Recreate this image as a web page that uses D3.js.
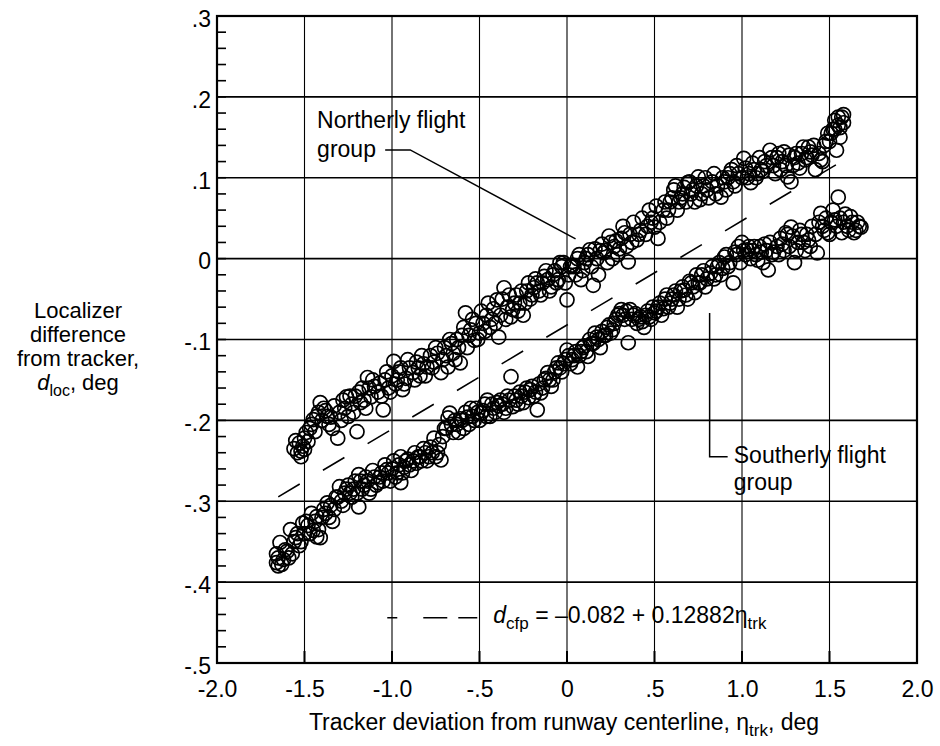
<!DOCTYPE html>
<html>
<head>
<meta charset="utf-8">
<script src="https://cdn.jsdelivr.net/npm/d3@7"></script>
<style>
  body { margin: 0; background: #fff; }
  svg text { font-family: "Liberation Sans", Arial, Helvetica, sans-serif; fill: #000; }
</style>
</head>
<body>
<div id="chart"></div>
<script>
// Axis ticks and labels
const xTicks = [-2, -1.5, -1, -0.5, 0, 0.5, 1, 1.5, 2];
const xTickLabels = ["-2.0", "-1.5", "-1.0", "-.5", "0", ".5", "1.0", "1.5", "2.0"];
const yTicks = [0.3, 0.2, 0.1, 0, -0.1, -0.2, -0.3, -0.4, -0.5];
const yTickLabels = [".3", ".2", ".1", "0", "-.1", "-.2", "-.3", "-.4", "-.5"];

// Northerly flight group: tracker deviation (deg) and localizer difference (deg)
const northEta = [-1.56,-1.54,-1.53,-1.52,-1.51,-1.50,-1.50,-1.48,-1.47,-1.45,-1.44,-1.42,-1.41,-1.40,-1.38,-1.36,-1.35,-1.33,-1.31,-1.30,
  -1.28,-1.26,-1.25,-1.23,-1.21,-1.20,-1.18,-1.17,-1.15,-1.14,-1.12,-1.10,-1.08,-1.07,-1.05,-1.04,-1.02,-1.00,-0.99,-0.98,
  -0.96,-0.94,-0.92,-0.90,-0.88,-0.86,-0.84,-0.82,-0.80,-0.78,-0.76,-0.74,-0.72,-0.70,-0.68,-0.66,-0.65,-0.63,-0.61,-0.60,
  -0.58,-0.57,-0.55,-0.53,-0.52,-0.50,-0.48,-0.46,-0.44,-0.42,-0.40,-0.39,-0.38,-0.36,-0.34,-0.32,-0.31,-0.29,-0.27,-0.25,
  -0.23,-0.21,-0.19,-0.17,-0.15,-0.13,-0.11,-0.09,-0.07,-0.05,-0.03,-0.02,0.00,0.01,0.03,0.04,0.06,0.08,0.10,0.12,
  0.13,0.15,0.17,0.19,0.21,0.23,0.25,0.27,0.29,0.31,0.33,0.35,0.37,0.40,0.42,0.45,0.48,0.50,0.52,0.55,
  0.57,0.59,0.61,0.63,0.65,0.67,0.69,0.71,0.73,0.75,0.76,0.78,0.80,0.83,0.85,0.88,0.90,0.92,0.94,0.96,
  0.98,1.01,1.03,1.05,1.07,1.09,1.11,1.13,1.16,1.18,1.20,1.22,1.24,1.26,1.28,1.30,1.32,1.34,1.36,1.38,
  1.40,1.42,1.45,1.47,1.49,1.50,1.52,1.53,1.54,1.55,1.56,1.57,1.58,
  -1.55,-1.52,-1.49,-1.46,-1.43,-1.39,-1.37,-1.34,-1.29,-1.27,
  -1.24,-1.22,-1.19,-1.16,-1.13,-1.11,-1.06,-1.03,-1.01,-0.97,
  -0.95,-0.93,-0.91,-0.87,-0.85,-0.83,-0.81,-0.77,-0.75,-0.71,
  -0.69,-0.67,-0.64,-0.62,-0.59,-0.56,-0.54,-0.51,-0.49,-0.47,
  -0.45,-0.43,-0.41,-0.37,-0.35,-0.33,-0.30,-0.28,-0.26,-0.24,
  -0.22,-0.20,-0.18,-0.16,-0.14,-0.12,-0.10,-0.08,-0.06,-0.04,
  -0.01,0.02,0.05,0.07,0.09,0.11,0.14,0.16,0.18,0.20,
  0.22,0.24,0.26,0.28,0.30,0.32,0.34,0.36,0.38,0.41,
  0.43,0.46,0.47,0.49,0.51,0.53,0.56,0.58,0.60,0.62,
  0.64,0.66,0.68,0.70,0.72,0.74,0.77,0.79,0.81,0.84,
  0.86,0.89,0.91,0.93,0.95,0.97,1.00,1.02,1.04,1.06,
  1.08,1.10,1.12,1.14,1.17,1.19,1.21,1.23,1.25,1.27,
  1.29,1.31,1.33,1.35,1.37,1.39,1.41,1.44,1.46,1.48,
  1.51,1.53,1.55,1.56,1.58];
const northD = [-0.235,-0.240,-0.228,-0.238,-0.232,-0.222,-0.236,-0.226,-0.210,-0.199,-0.214,-0.190,-0.178,-0.200,-0.188,-0.205,-0.196,-0.182,-0.222,-0.190,
  -0.175,-0.171,-0.195,-0.180,-0.170,-0.214,-0.178,-0.160,-0.185,-0.147,-0.171,-0.158,-0.165,-0.154,-0.187,-0.150,-0.160,-0.145,-0.127,-0.155,
  -0.140,-0.162,-0.148,-0.135,-0.141,-0.128,-0.145,-0.130,-0.134,-0.120,-0.128,-0.117,-0.141,-0.110,-0.134,-0.105,-0.117,-0.100,-0.129,-0.095,
  -0.067,-0.110,-0.088,-0.101,-0.080,-0.092,-0.080,-0.070,-0.085,-0.062,-0.051,-0.097,-0.070,-0.036,-0.060,-0.072,-0.063,-0.045,-0.055,-0.070,
  -0.040,-0.050,-0.036,-0.030,-0.045,-0.022,-0.026,-0.035,-0.015,-0.026,-0.010,-0.005,-0.051,-0.020,-0.008,-0.010,0.000,-0.026,-0.005,0.005,
  0.011,-0.033,0.000,0.010,0.007,-0.005,0.020,0.015,0.005,0.025,0.032,-0.004,0.020,0.023,0.035,0.030,0.045,0.039,0.025,0.060,
  0.050,0.070,0.085,0.060,0.075,0.088,0.094,0.080,0.070,0.101,0.073,0.090,0.085,0.095,0.080,0.076,0.095,0.100,0.110,0.090,
  0.105,0.124,0.100,0.094,0.110,0.105,0.110,0.120,0.134,0.115,0.125,0.110,0.132,0.101,0.095,0.125,0.118,0.130,0.122,0.138,
  0.128,0.110,0.122,0.140,0.155,0.145,0.160,0.171,0.134,0.165,0.150,0.175,0.168,
  -0.225,-0.245,-0.215,-0.205,-0.195,-0.185,-0.195,-0.210,-0.200,-0.185,
  -0.170,-0.190,-0.165,-0.175,-0.160,-0.150,-0.170,-0.140,-0.165,-0.150,
  -0.135,-0.155,-0.125,-0.150,-0.135,-0.120,-0.145,-0.135,-0.110,-0.125,
  -0.120,-0.100,-0.125,-0.110,-0.085,-0.095,-0.075,-0.100,-0.065,-0.090,
  -0.055,-0.075,-0.080,-0.050,-0.075,-0.045,-0.055,-0.065,-0.040,-0.055,
  -0.030,-0.045,-0.025,-0.040,-0.030,-0.015,-0.040,-0.020,-0.030,-0.005,
  -0.030,-0.010,-0.020,0.005,-0.015,0.000,-0.010,0.012,-0.020,0.018,
  0.010,0.028,0.000,0.022,0.012,0.040,0.015,0.030,0.045,0.030,
  0.050,0.040,0.060,0.050,0.065,0.045,0.070,0.060,0.075,0.090,
  0.070,0.080,0.070,0.095,0.085,0.090,0.080,0.100,0.075,0.105,
  0.090,0.100,0.085,0.105,0.095,0.115,0.100,0.112,0.105,0.118,
  0.100,0.125,0.108,0.115,0.125,0.105,0.130,0.120,0.115,0.128,
  0.115,0.130,0.112,0.138,0.125,0.132,0.140,0.130,0.120,0.145,
  0.155,0.160,0.175,0.162,0.178];

// Southerly flight group
const southEta = [-1.66,-1.65,-1.65,-1.64,-1.62,-1.60,-1.58,-1.57,-1.55,-1.53,-1.51,-1.50,-1.48,-1.46,-1.45,-1.43,-1.43,-1.41,-1.39,-1.37,
  -1.36,-1.34,-1.32,-1.30,-1.29,-1.27,-1.25,-1.23,-1.21,-1.19,-1.19,-1.17,-1.15,-1.13,-1.11,-1.09,-1.08,-1.06,-1.04,-1.03,
  -1.01,-0.99,-0.97,-0.95,-0.95,-0.93,-0.91,-0.89,-0.87,-0.86,-0.84,-0.82,-0.80,-0.78,-0.76,-0.74,-0.72,-0.70,-0.68,-0.67,
  -0.65,-0.63,-0.61,-0.59,-0.57,-0.55,-0.53,-0.51,-0.49,-0.47,-0.455,-0.44,-0.42,-0.40,-0.38,-0.36,-0.34,-0.32,-0.31,-0.29,
  -0.27,-0.25,-0.23,-0.21,-0.19,-0.17,-0.15,-0.13,-0.11,-0.09,-0.08,-0.06,-0.05,-0.03,-0.01,0.00,0.02,0.04,0.06,0.08,
  0.10,0.12,0.14,0.17,0.19,0.21,0.23,0.25,0.27,0.29,0.31,0.33,0.35,0.36,0.38,0.40,0.42,0.44,0.46,0.48,
  0.50,0.52,0.54,0.56,0.59,0.61,0.63,0.65,0.67,0.69,0.71,0.73,0.75,0.77,0.79,0.82,0.84,0.86,0.88,0.90,
  0.92,0.95,0.97,0.99,1.01,1.03,1.05,1.07,1.09,1.11,1.13,1.15,1.17,1.20,1.22,1.24,1.26,1.28,1.30,1.32,
  1.34,1.36,1.38,1.40,1.43,1.45,1.47,1.49,1.51,1.53,1.55,1.57,1.59,1.60,1.62,1.64,1.66,1.68,
  -1.66,-1.63,-1.61,-1.59,-1.56,-1.54,-1.52,-1.49,-1.47,-1.44,
  -1.42,-1.40,-1.38,-1.35,-1.33,-1.31,-1.28,-1.26,-1.24,-1.22,
  -1.20,-1.18,-1.16,-1.14,-1.12,-1.10,-1.07,-1.05,-1.02,-1.00,
  -0.98,-0.96,-0.94,-0.92,-0.90,-0.88,-0.85,-0.83,-0.81,-0.79,
  -0.77,-0.75,-0.73,-0.71,-0.69,-0.66,-0.64,-0.62,-0.60,-0.58,
  -0.56,-0.54,-0.52,-0.50,-0.48,-0.46,-0.43,-0.41,-0.39,-0.37,
  -0.35,-0.33,-0.30,-0.28,-0.26,-0.24,-0.22,-0.20,-0.18,-0.16,
  -0.14,-0.12,-0.10,-0.07,-0.04,-0.02,0.01,0.03,0.05,0.07,
  0.09,0.11,0.13,0.15,0.16,0.18,0.20,0.22,0.24,0.26,
  0.28,0.30,0.32,0.34,0.37,0.39,0.41,0.43,0.45,0.47,
  0.49,0.51,0.53,0.55,0.57,0.58,0.60,0.62,0.64,0.66,
  0.68,0.70,0.72,0.74,0.76,0.78,0.80,0.83,0.85,0.87,
  0.89,0.91,0.93,0.96,0.98,1.00,1.02,1.04,1.06,1.08,
  1.10,1.12,1.14,1.16,1.18,1.21,1.23,1.25,1.27,1.29,
  1.31,1.33,1.35,1.37,1.39,1.42,1.44,1.46,1.48,1.50,
  1.52,1.54,1.56,1.58,1.61,1.63,1.65,1.67];
const southD = [-0.376,-0.370,-0.380,-0.351,-0.372,-0.362,-0.335,-0.365,-0.345,-0.355,-0.327,-0.340,-0.330,-0.315,-0.336,-0.344,-0.319,-0.345,-0.310,-0.302,
  -0.320,-0.325,-0.295,-0.282,-0.300,-0.290,-0.280,-0.295,-0.275,-0.267,-0.307,-0.285,-0.270,-0.290,-0.262,-0.280,-0.277,-0.265,-0.255,-0.261,
  -0.275,-0.250,-0.265,-0.277,-0.245,-0.258,-0.248,-0.262,-0.240,-0.253,-0.245,-0.235,-0.250,-0.233,-0.222,-0.240,-0.249,-0.210,-0.197,-0.191,
  -0.215,-0.205,-0.198,-0.210,-0.196,-0.185,-0.200,-0.190,-0.191,-0.180,-0.175,-0.195,-0.185,-0.178,-0.175,-0.190,-0.170,-0.146,-0.183,-0.175,
  -0.165,-0.178,-0.160,-0.162,-0.170,-0.187,-0.166,-0.150,-0.141,-0.158,-0.150,-0.135,-0.129,-0.140,-0.125,-0.113,-0.130,-0.120,-0.134,-0.115,
  -0.108,-0.121,-0.105,-0.097,-0.110,-0.095,-0.085,-0.092,-0.080,-0.070,-0.063,-0.075,-0.104,-0.063,-0.070,-0.080,-0.072,-0.085,-0.065,-0.075,
  -0.067,-0.060,-0.070,-0.050,-0.055,-0.045,-0.060,-0.040,-0.039,-0.050,-0.030,-0.042,-0.030,-0.020,-0.035,-0.018,-0.025,-0.010,-0.020,0.002,
  -0.010,-0.030,0.005,-0.005,0.010,0.011,0.000,0.015,-0.002,0.008,0.018,-0.014,0.005,0.015,0.025,0.010,0.030,0.039,-0.005,0.020,
  0.030,0.010,0.023,0.040,0.007,0.056,0.035,0.032,0.045,0.048,0.076,0.032,0.055,0.040,0.052,0.032,0.045,0.039,
  -0.365,-0.378,-0.360,-0.370,-0.350,-0.340,-0.350,-0.325,-0.340,-0.325,
  -0.335,-0.320,-0.315,-0.305,-0.310,-0.295,-0.305,-0.285,-0.290,-0.285,
  -0.290,-0.275,-0.280,-0.275,-0.285,-0.270,-0.270,-0.275,-0.265,-0.260,
  -0.270,-0.255,-0.265,-0.250,-0.255,-0.250,-0.245,-0.250,-0.240,-0.245,
  -0.240,-0.245,-0.230,-0.220,-0.210,-0.205,-0.200,-0.215,-0.200,-0.190,
  -0.205,-0.195,-0.185,-0.200,-0.188,-0.195,-0.180,-0.190,-0.182,-0.180,
  -0.185,-0.175,-0.170,-0.180,-0.170,-0.165,-0.172,-0.158,-0.165,-0.155,
  -0.160,-0.148,-0.150,-0.140,-0.135,-0.130,-0.120,-0.125,-0.115,-0.120,
  -0.110,-0.115,-0.100,-0.105,-0.092,-0.100,-0.090,-0.095,-0.082,-0.088,
  -0.075,-0.068,-0.070,-0.065,-0.075,-0.068,-0.075,-0.078,-0.070,-0.072,
  -0.060,-0.065,-0.055,-0.062,-0.045,-0.060,-0.050,-0.040,-0.050,-0.035,
  -0.045,-0.028,-0.035,-0.020,-0.030,-0.015,-0.025,-0.010,-0.020,-0.005,
  -0.012,0.005,-0.005,0.008,0.015,0.020,0.005,0.015,0.010,0.005,
  0.015,-0.005,0.010,0.020,0.008,0.005,0.018,0.032,0.015,0.028,
  0.010,0.035,0.020,0.030,0.015,0.030,0.045,0.040,0.050,0.030,
  0.060,0.040,0.050,0.045,0.035,0.045,0.035,0.040];

// Fitted line d_cfp = -0.082 + 0.12882 * eta, drawn over the data range
const fitIntercept = -0.082;
const fitSlope = 0.12882;
const fitEtaRange = [-1.65, 1.61];

const W = 940, H = 746;
const x = d3.scaleLinear().domain([-2, 2]).range([217, 917]);
const y = d3.scaleLinear().domain([-0.5, 0.3]).range([663, 16]);

const svg = d3.select("#chart").append("svg")
  .attr("width", W).attr("height", H);

// grid
svg.append("g")
  .selectAll("line").data(yTicks).enter().append("line")
  .attr("x1", x(-2)).attr("x2", x(2))
  .attr("y1", d => y(d)).attr("y2", d => y(d))
  .attr("stroke", "#000").attr("stroke-width", 1.6);
svg.append("g")
  .selectAll("line").data(xTicks).enter().append("line")
  .attr("x1", d => x(d)).attr("x2", d => x(d))
  .attr("y1", y(0.3)).attr("y2", y(-0.5))
  .attr("stroke", "#000").attr("stroke-width", 1.1);

// minor ticks on the left edge, every .02
const minor = d3.range(-50, 31, 2).map(v => v / 100);
svg.append("g")
  .selectAll("line").data(minor).enter().append("line")
  .attr("x1", x(-2)).attr("x2", x(-2) + 9)
  .attr("y1", d => y(d)).attr("y2", d => y(d))
  .attr("stroke", "#000").attr("stroke-width", 1.6);
// heavier ticks along the bottom
svg.append("g")
  .selectAll("line").data(xTicks).enter().append("line")
  .attr("x1", d => x(d)).attr("x2", d => x(d))
  .attr("y1", y(-0.5)).attr("y2", y(-0.5) - 12)
  .attr("stroke", "#000").attr("stroke-width", 2);

// frame
svg.append("rect")
  .attr("x", x(-2)).attr("y", y(0.3))
  .attr("width", x(2) - x(-2)).attr("height", y(-0.5) - y(0.3))
  .attr("fill", "none").attr("stroke", "#000").attr("stroke-width", 2.2);

// axes (labels only)
const xAxis = svg.append("g")
  .attr("transform", `translate(0,${y(-0.5)})`)
  .call(d3.axisBottom(x).tickValues(xTicks).tickSize(0).tickPadding(18)
    .tickFormat((d, i) => xTickLabels[i]));
const yAxis = svg.append("g")
  .attr("transform", `translate(${x(-2)},0)`)
  .call(d3.axisLeft(y).tickValues(yTicks).tickSize(0).tickPadding(6)
    .tickFormat((d, i) => yTickLabels[i]));
[xAxis, yAxis].forEach(g => {
  g.select(".domain").remove();
  g.selectAll("text").attr("font-size", 23).attr("font-family", null).style("fill", "#000");
});
yAxis.selectAll("text").attr("dy", "0.45em");

// fitted dashed line
svg.append("line")
  .attr("x1", x(fitEtaRange[0])).attr("y1", y(fitIntercept + fitSlope * fitEtaRange[0]))
  .attr("x2", x(fitEtaRange[1])).attr("y2", y(fitIntercept + fitSlope * fitEtaRange[1]))
  .attr("stroke", "#000").attr("stroke-width", 1.6)
  .attr("stroke-dasharray", "25,27");

// data points
const north = northEta.map((e, i) => [e, northD[i]]);
const south = southEta.map((e, i) => [e, southD[i]]);
svg.append("g")
  .selectAll("circle").data(north.concat(south)).enter().append("circle")
  .attr("cx", d => x(d[0])).attr("cy", d => y(d[1]))
  .attr("r", 7)
  .attr("fill", "none").attr("stroke", "#000").attr("stroke-width", 1.7);

// annotations
const ann = svg.append("g").attr("font-size", 23);
ann.append("text").attr("x", x(-1.428)).attr("y", y(0.1616)).text("Northerly flight");
ann.append("text").attr("x", x(-1.428)).attr("y", y(0.1257)).text("group");
ann.append("path")
  .attr("d", d3.line()([[x(-1.039), y(0.1344)], [x(-0.896), y(0.1344)], [x(0.049), y(0.0244)]]))
  .attr("fill", "none").attr("stroke", "#000").attr("stroke-width", 1.5);

ann.append("path")
  .attr("d", d3.line()([[x(0.815), y(-0.0671)], [x(0.815), y(-0.2451)], [x(0.918), y(-0.2451)]]))
  .attr("fill", "none").attr("stroke", "#000").attr("stroke-width", 1.5);
ann.append("text").attr("x", x(0.953)).attr("y", y(-0.2525)).text("Southerly flight");
ann.append("text").attr("x", x(0.953)).attr("y", y(-0.286)).text("group");

// legend for fitted line
ann.append("line")
  .attr("x1", x(-1.027)).attr("x2", x(-0.512))
  .attr("y1", y(-0.4441)).attr("y2", y(-0.4441))
  .attr("stroke", "#000").attr("stroke-width", 1.6)
  .attr("stroke-dasharray", "10,26,24,11,19");
const leg = ann.append("text").attr("x", x(-0.421)).attr("y", y(-0.4503));
leg.append("tspan").attr("font-style", "italic").text("d");
leg.append("tspan").attr("font-size", 17).attr("dy", 6).text("cfp");
leg.append("tspan").attr("dy", -6).text(" = \u20130.082 + 0.12882\u03b7");
leg.append("tspan").attr("font-size", 17).attr("dy", 6).text("trk");

// axis titles
const xt = svg.append("text").attr("font-size", 23).attr("text-anchor", "middle")
  .attr("x", 564).attr("y", 730);
xt.append("tspan").text("Tracker deviation from runway centerline, \u03b7");
xt.append("tspan").attr("font-size", 17).attr("dy", 6).text("trk");
xt.append("tspan").attr("dy", -6).text(", deg");

const yt = svg.append("g").attr("font-size", 22).attr("text-anchor", "middle");
["Localizer", "difference", "from tracker,"].forEach((s, i) => {
  yt.append("text").attr("x", 78).attr("y", 318 + i * 24).text(s);
});
const yl = yt.append("text").attr("x", 78).attr("y", 390);
yl.append("tspan").attr("font-style", "italic").text("d");
yl.append("tspan").attr("font-size", 16).attr("dy", 6).text("loc");
yl.append("tspan").attr("dy", -6).text(", deg");
</script>
</body>
</html>
